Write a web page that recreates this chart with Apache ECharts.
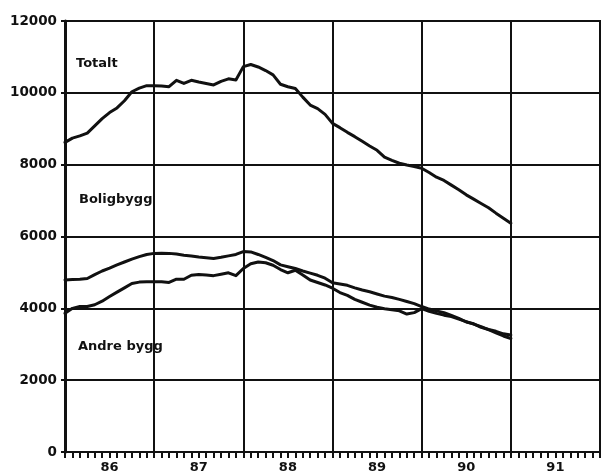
<!DOCTYPE html>
<html>
<head>
<meta charset="utf-8">
<script src="https://cdn.jsdelivr.net/npm/echarts@6/dist/echarts.min.js"></script>
<style>html,body{margin:0;padding:0;background:#fff;}#c{width:603px;height:475px;}</style>
</head>
<body>
<div id="c"></div>
<script>
// Year labels (each year spans 12 months on the x axis)
var yearLabels = ['86', '87', '88', '89', '90', '91'];
// Monthly values, Jan 1986 (month 0) to Jan 1991 (month 60)
var totalt = [8620, 8740, 8800, 8880, 9080, 9280, 9450, 9580, 9780, 10030, 10130, 10200,
  10200, 10190, 10170, 10350, 10260, 10350, 10300, 10260, 10220, 10320, 10390, 10360,
  10730, 10790, 10720, 10620, 10500, 10240, 10170, 10120, 9880, 9660, 9560, 9400,
  9150, 9030, 8900, 8780, 8650, 8520, 8400, 8210, 8120, 8040, 7990, 7950,
  7900, 7780, 7650, 7560, 7430, 7300, 7160, 7040, 6920, 6800, 6650, 6510, 6370];
var boligbygg = [4790, 4800, 4810, 4830, 4940, 5040, 5120, 5210, 5290, 5370, 5440, 5500,
  5530, 5535, 5530, 5510, 5480, 5460, 5430, 5410, 5390, 5420, 5460, 5500,
  5580, 5570, 5500, 5420, 5330, 5210, 5160, 5110, 5040, 4980, 4920, 4840,
  4710, 4680, 4640, 4570, 4510, 4460, 4400, 4340, 4300, 4250, 4190, 4130,
  4050, 3980, 3930, 3880, 3800, 3720, 3620, 3570, 3470, 3410, 3360, 3290, 3260];
var andreBygg = [3860, 4000, 4050, 4050, 4100, 4200, 4330, 4450, 4570, 4690, 4730, 4740,
  4740, 4740, 4720, 4810, 4810, 4920, 4940, 4930, 4910, 4950, 4990, 4910,
  5110, 5240, 5290, 5270, 5200, 5080, 4990, 5060, 4930, 4790, 4720, 4650,
  4560, 4440, 4360, 4250, 4170, 4090, 4030, 3990, 3960, 3930, 3840, 3880,
  3990, 3920, 3860, 3810, 3770, 3700, 3630, 3560, 3490, 3410, 3320, 3230, 3160];
var yTicks = [0, 2000, 4000, 6000, 8000, 10000, 12000];
var seriesLabels = ['Totalt', 'Boligbygg', 'Andre bygg'];

function toXY(arr) { return arr.map(function (v, i) { return [i, v]; }); }

var ink = '#111';
var font = 'DejaVu Sans';
var chart = echarts.init(document.getElementById('c'), null, {renderer: 'canvas'});

function lineSeries(name, arr) {
  return {
    name: name, type: 'line', xAxisIndex: 0, yAxisIndex: 0,
    data: toXY(arr), symbol: 'none', smooth: false, animation: false,
    lineStyle: {color: ink, width: 3, join: 'round', cap: 'round'}, z: 5
  };
}

chart.setOption({
  animation: false,
  backgroundColor: '#fff',
  grid: {left: 65, right: 3, top: 21, bottom: 23, show: true, borderColor: ink, borderWidth: 2, backgroundColor: 'transparent'},
  xAxis: [{
    type: 'value', min: 0, max: 72, interval: 12, position: 'bottom',
    axisLine: {show: true, onZero: false, lineStyle: {color: ink, width: 2}},
    axisTick: {show: true, length: 6, lineStyle: {color: ink, width: 2}},
    minorTick: {show: true, splitNumber: 12, length: 6, lineStyle: {color: ink, width: 2}},
    axisLabel: {show: false},
    splitLine: {show: true, lineStyle: {color: ink, width: 2}}
  }, {
    type: 'category', data: yearLabels, boundaryGap: true, position: 'bottom', offset: 0,
    axisLine: {show: false}, axisTick: {show: false}, splitLine: {show: false},
    axisLabel: {show: true, interval: 0, margin: 9, color: ink, fontFamily: font, fontWeight: 'bold', fontSize: 13}
  }],
  yAxis: {
    type: 'value', min: yTicks[0], max: yTicks[yTicks.length - 1], interval: 2000,
    axisLine: {show: true, lineStyle: {color: ink, width: 3}},
    axisTick: {show: true, length: 4, lineStyle: {color: ink, width: 2}},
    axisLabel: {margin: 8, color: ink, fontFamily: font, fontWeight: 'bold', fontSize: 13.5,
      formatter: function (v) { return String(v); }},
    splitLine: {show: true, lineStyle: {color: ink, width: 2}}
  },
  graphic: [
    {type: 'text', left: 76, top: 57, style: {text: seriesLabels[0], fill: ink, font: 'bold 13px "DejaVu Sans"'}},
    {type: 'text', left: 79, top: 193, style: {text: seriesLabels[1], fill: ink, font: 'bold 13px "DejaVu Sans"'}},
    {type: 'text', left: 78, top: 340, style: {text: seriesLabels[2], fill: ink, font: 'bold 13px "DejaVu Sans"'}}
  ],
  series: [
    lineSeries(seriesLabels[0], totalt),
    lineSeries(seriesLabels[1], boligbygg),
    lineSeries(seriesLabels[2], andreBygg)
  ]
});
</script>
</body>
</html>
